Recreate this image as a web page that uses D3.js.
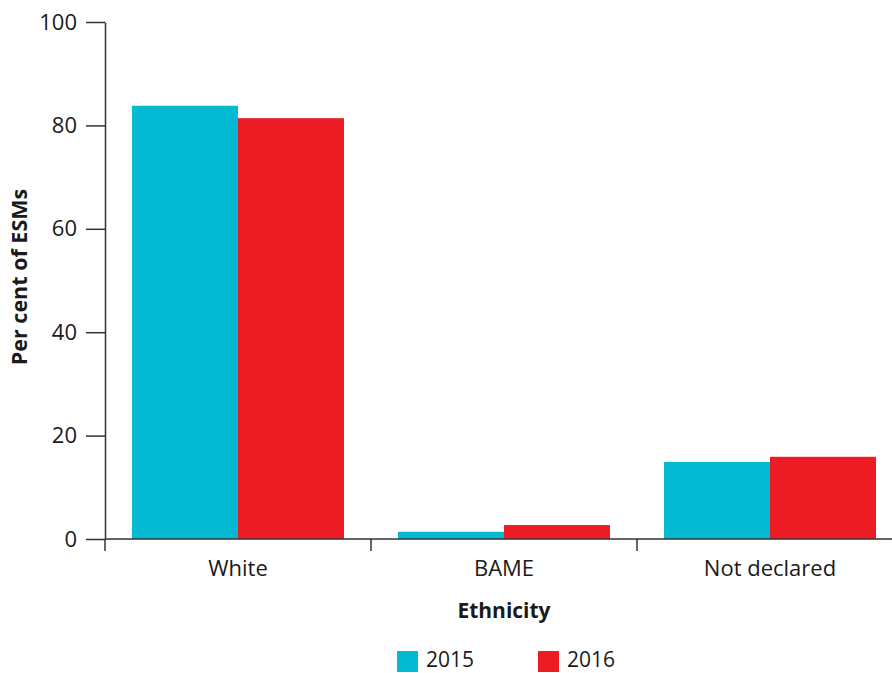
<!DOCTYPE html>
<html><head><meta charset="utf-8">
<script src="https://cdn.jsdelivr.net/npm/d3@7"></script>
<style>body{margin:0;background:#fff;} svg{display:block;font-family:"Open Sans","Noto Sans",sans-serif;}</style>
</head><body>
<svg id="c" width="892" height="673"></svg>
<script>
const categories = ["White", "BAME", "Not declared"];
const years = ["2015", "2016"];
const values2015 = [83.8, 1.4, 14.9];
const values2016 = [81.4, 2.7, 15.9];
const yTicks = [0, 20, 40, 60, 80, 100];
const colors = ["#03BAD2", "#ED1C24"];

(function(){
const svg = d3.select("#c");
const mLeft = 105, mRight = 903, mTop = 22, mBottom = 539;
const x0 = d3.scaleBand().domain(categories).range([mLeft, mRight]).padding(0);
const x1 = d3.scaleBand().domain(years).range([0, x0.bandwidth()]).paddingInner(0).paddingOuter(0.255);
const y = d3.scaleLinear().domain([0, 100]).range([mBottom, mTop]);
const color = d3.scaleOrdinal().domain(years).range(colors);
const series = {"2015": values2015, "2016": values2016};

categories.forEach((c, i) => {
  years.forEach(yr => {
    svg.append("rect")
      .attr("x", x0(c) + x1(yr))
      .attr("y", y(series[yr][i]))
      .attr("width", x1.bandwidth())
      .attr("height", y(0) - y(series[yr][i]))
      .attr("fill", color(yr));
  });
});

const yAxis = svg.append("g").attr("transform", `translate(${mLeft},0)`)
  .call(d3.axisLeft(y).tickValues(yTicks).tickSize(19).tickPadding(9).tickSizeOuter(0));
yAxis.select(".domain").attr("stroke", "#333").attr("stroke-width", 1.5);
yAxis.selectAll(".tick line").attr("stroke", "#333").attr("stroke-width", 1.5);
yAxis.selectAll(".tick text").attr("font-size", 22).attr("fill", "#1a1a1a").attr("font-family", "Open Sans");

const xAxisG = svg.append("g").attr("transform", `translate(0,${mBottom})`);
xAxisG.append("line").attr("x1", mLeft).attr("x2", mRight).attr("y1", 0).attr("y2", 0)
  .attr("stroke", "#333").attr("stroke-width", 1.5);
const boundaries = categories.map(c => x0(c)).concat([x0(categories[categories.length-1]) + x0.bandwidth()]);
xAxisG.selectAll("line.tk").data(boundaries).enter().append("line").attr("class","tk")
  .attr("x1", d => d).attr("x2", d => d).attr("y1", 0).attr("y2", 12)
  .attr("stroke", "#333").attr("stroke-width", 1.5);
xAxisG.selectAll("text.cat").data(categories).enter().append("text").attr("class","cat")
  .attr("x", d => x0(d) + x0.bandwidth()/2).attr("y", 37)
  .attr("text-anchor", "middle").attr("font-size", 22).attr("fill", "#1a1a1a").text(d => d);

svg.append("text").attr("x", 504).attr("y", 618).attr("text-anchor", "middle")
  .attr("font-size", 21).attr("font-weight", "bold").attr("fill", "#1a1a1a").text("Ethnicity");
svg.append("text").attr("transform", "translate(27,277) rotate(-90)").attr("text-anchor", "middle")
  .attr("font-size", 21.5).attr("font-weight", "bold").attr("fill", "#1a1a1a").text("Per cent of ESMs");

const legendX = [397, 538];
years.forEach((yr, i) => {
  svg.append("rect").attr("x", legendX[i]).attr("y", 651).attr("width", 21).attr("height", 21).attr("fill", color(yr));
  svg.append("text").attr("x", legendX[i] + 29).attr("y", 667).attr("font-size", 21).attr("fill", "#1a1a1a").text(yr);
});
})();
</script>
</body></html>
